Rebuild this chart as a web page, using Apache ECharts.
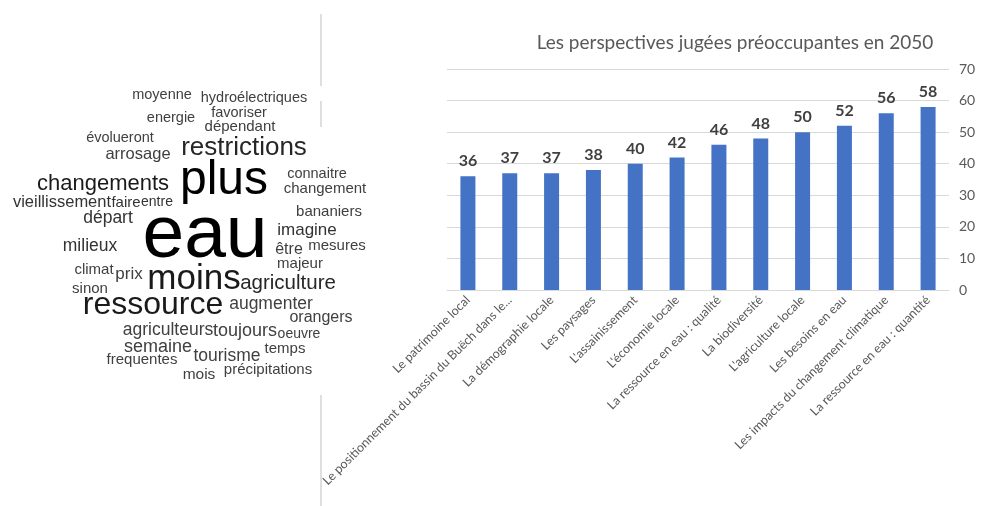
<!DOCTYPE html>
<html>
<head>
<meta charset="utf-8">
<script src="https://cdn.jsdelivr.net/npm/echarts@6/dist/echarts.min.js"></script>
<style>
html,body{margin:0;padding:0;background:#fff;}
#main{width:981px;height:506px;}
</style>
</head>
<body>
<div id="main"></div>
<script>
// ---- Bar chart data ----
const categories = [
  "Le patrimoine local",
  "Le positionnement du bassin du Buëch dans le...",
  "La démographie locale",
  "Les paysages",
  "L'assainissement",
  "L'économie locale",
  "La ressource en eau : qualité",
  "La biodiversité",
  "L'agriculture locale",
  "Les besoins en eau",
  "Les impacts du changement climatique",
  "La ressource en eau : quantité"
];
const values = [36, 37, 37, 38, 40, 42, 46, 48, 50, 52, 56, 58];
const yTicks = [0, 10, 20, 30, 40, 50, 60, 70];
const chartTitle = "Les perspectives jugées préoccupantes en 2050";

// ---- Word cloud words ----
const cloudWords = ["moyenne","hydroélectriques","energie","favoriser","dépendant","évolueront",
  "arrosage","restrictions","plus","changements","connaitre","changement","vieillissement","faire",
  "entre","départ","eau","bananiers","imagine","être","mesures","majeur","milieux","climat","prix",
  "sinon","moins","agriculture","ressource","augmenter","orangers","agriculteurs","toujours","oeuvre",
  "semaine","frequentes","tourisme","temps","mois","précipitations"];
// layout for each word: [centerX, centerY, fontSize, color]
const cloudLayout = [
  [162, 95, 14.5, "#404040"], [254, 98, 14.5, "#404040"], [171, 118, 14.5, "#404040"],
  [239, 113, 14.5, "#404040"], [240, 127, 15, "#404040"], [120, 138, 14.5, "#404040"],
  [138, 154, 16.5, "#404040"], [244, 148, 26, "#262626"], [224, 181, 48, "#000000"],
  [103, 184, 22, "#1a1a1a"], [317, 174, 14.5, "#404040"], [325, 189, 15, "#404040"],
  [62, 202, 16.5, "#333333"], [126, 203, 15, "#333333"], [157, 202, 14, "#333333"],
  [108, 218, 17.5, "#333333"], [205, 236, 75, "#000000"], [329, 212, 15, "#404040"],
  [307, 230, 17, "#333333"], [289, 250, 16, "#404040"], [337, 246, 15, "#404040"],
  [300, 264, 15, "#404040"], [90, 246, 17.5, "#333333"], [94, 270, 15, "#404040"],
  [129, 274, 17, "#404040"], [90, 289, 15, "#404040"], [194, 279, 35, "#1a1a1a"],
  [288, 283, 20.5, "#262626"], [153, 305, 32, "#1a1a1a"], [271, 304, 17.5, "#404040"],
  [321, 318, 16, "#404040"], [168, 330, 17.5, "#404040"], [245, 331, 18, "#404040"],
  [299, 334, 14, "#404040"], [158, 347, 18, "#404040"], [142, 360, 15, "#404040"],
  [227, 356, 17.5, "#404040"], [285, 349, 15, "#404040"], [199, 375, 15.5, "#404040"],
  [268, 370, 15, "#404040"]
];

const graphics = [];
// divider line segments
[[14, 86], [101, 127], [395, 506]].forEach(function (s) {
  graphics.push({type: 'line', shape: {x1: 321, y1: s[0], x2: 321, y2: s[1]},
    style: {stroke: '#bfbfbf', lineWidth: 1}, silent: true});
});
cloudWords.forEach(function (w, i) {
  const l = cloudLayout[i];
  graphics.push({
    type: 'text', x: l[0], y: l[1],
    style: {text: w, fontFamily: 'Liberation Sans, Arial, sans-serif', fontSize: l[2],
      fill: l[3], align: 'center', verticalAlign: 'middle'}
  });
});

const chart = echarts.init(document.getElementById('main'));
chart.setOption({
  backgroundColor: '#ffffff',
  animation: false,
  title: {
    text: chartTitle, left: 730, top: 28, textAlign: 'center',
    textStyle: {fontFamily: 'Lato, Open Sans, sans-serif', fontSize: 19, fontWeight: 'normal', color: '#595959'}
  },
  grid: {left: 447, right: 32, top: 69, bottom: 216, containLabel: false},
  xAxis: {
    type: 'category', data: categories,
    axisLine: {lineStyle: {color: '#d9d9d9'}},
    axisTick: {show: false},
    axisLabel: {rotate: 45, interval: 0, margin: 8, color: '#595959', fontSize: 12.5,
      fontFamily: 'Lato, Open Sans, sans-serif'}
  },
  yAxis: {
    type: 'value', position: 'right', min: yTicks[0], max: yTicks[yTicks.length - 1], interval: 10,
    axisLine: {show: false}, axisTick: {show: false},
    splitLine: {lineStyle: {color: '#d9d9d9'}},
    axisLabel: {margin: 10, color: '#595959', fontSize: 14, fontFamily: 'Lato, Open Sans, sans-serif'}
  },
  series: [{
    type: 'bar', data: values, barWidth: 15,
    itemStyle: {color: '#4472C4'},
    label: {show: true, position: 'top', distance: 7, color: '#404040', fontSize: 16,
      fontWeight: 'bold', fontFamily: 'Lato, Open Sans, sans-serif'}
  }],
  graphic: graphics
});
</script>
</body>
</html>
